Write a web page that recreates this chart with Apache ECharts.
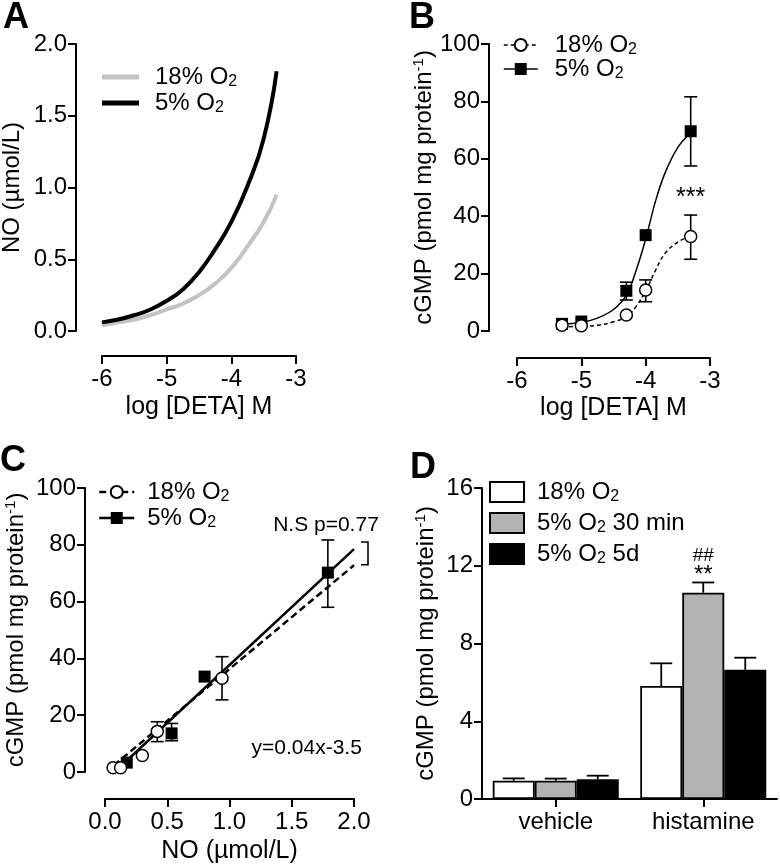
<!DOCTYPE html>
<html><head><meta charset="utf-8">
<script src="https://cdn.jsdelivr.net/npm/echarts@6/dist/echarts.min.js"></script>
<style>html,body{margin:0;padding:0;background:#fff}#c{width:780px;height:868px}</style>
</head><body><div id="c"></div>
<script>
// ---------- Panel A: NO vs log[DETA] (curves) ----------
const aX  = [-6, -5.75, -5.5, -5.25, -5, -4.75, -4.5, -4.25, -4, -3.75, -3.5, -3.3];
const a18 = [0.04, 0.06, 0.08, 0.11, 0.15, 0.19, 0.25, 0.33, 0.44, 0.59, 0.76, 0.95];
const a5  = [0.06, 0.08, 0.11, 0.15, 0.21, 0.29, 0.41, 0.57, 0.76, 1.01, 1.34, 1.81];
const aXTicks = [-6, -5, -4, -3];
const aYTicks = [0, 0.5, 1.0, 1.5, 2.0];

// ---------- Panel B: cGMP vs log[DETA] ----------
const bX     = [-5.3, -5, -4.3, -4, -3.3];
const b18    = [2.0, 1.8, 5.6, 14.3, 32.9];
const b18Lo  = [2.0, 1.8, 5.6, 10.2, 25.0];
const b18Hi  = [2.0, 1.8, 5.6, 17.8, 40.4];
const b5     = [2.5, 3.3, 14.0, 33.4, 69.6];
const b5Lo   = [2.5, 3.3, 10.8, 33.4, 57.5];
const b5Hi   = [2.5, 3.3, 17.0, 33.4, 81.6];
const bFitX  = [-5.3, -5, -4.75, -4.5, -4.3, -4.15, -4, -3.85, -3.7, -3.5, -3.3];
const bFit18 = [1.5, 1.6, 2.0, 3.2, 5.0, 8.5, 14, 21, 27, 31, 33];
const bFit5  = [2.5, 3.0, 4.5, 7.5, 12.5, 21, 32, 45, 55, 64, 69];
const bStarPos = [-3.3, 46.3];

// ---------- Panel C: cGMP vs NO ----------
const c18X  = [0.065, 0.125, 0.30, 0.42, 0.94];
const c18   = [1.5, 1.5, 5.8, 14.3, 33.0];
const c18Lo = [1.5, 1.5, 5.8, 10.7, 25.4];
const c18Hi = [1.5, 1.5, 5.8, 17.7, 40.6];
const c5X   = [0.175, 0.535, 0.80, 1.79];
const c5    = [3.3, 13.6, 33.6, 70.2];
const c5Lo  = [3.3, 11.0, 33.6, 58.0];
const c5Hi  = [3.3, 17.1, 33.6, 81.7];
const cFit18X = [0.07, 2.0];
const cFit18  = [2.3, 72.8];
const cFit5X  = [0.15, 2.0];
const cFit5   = [3.0, 78.5];
const cBracket = [2.0, 81, 73];
const cNSPos = [1.775, 87];
const cEqPos = [1.62, 8.5];

// ---------- Panel D: bars ----------
const dCats  = ['vehicle', 'histamine'];
const d18    = [0.94, 5.81];
const d18Hi  = [1.06, 6.98];
const d5m    = [0.94, 10.61];
const d5mHi  = [1.05, 11.14];
const d5d    = [1.01, 6.65];
const d5dHi  = [1.20, 7.27];

const FONT = "'Liberation Sans', Arial, sans-serif";
const BLACK = '#000';
const FS = 24;

const legendText = {
  A18: ['18% O', ''], A5: ['5% O', ''],
  B18: ['18% O', ''], B5: ['5% O', ''],
  C18: ['18% O', ''], C5: ['5% O', ''],
  D18: ['18% O', ''], D5m: ['5% O', ' 30 min'], D5d: ['5% O', ' 5d']
};
function makeLegend(names, left, top, sp, extra) {
  return Object.assign({
    orient: 'vertical', left: left, top: top, padding: 0, itemGap: 1,
    selectedMode: false, data: names,
    formatter: function (n) {
      const p = legendText[n];
      return '{sp| }{t|' + p[0] + '}{sub|2}' + (p[1] ? '{t|' + p[1] + '}' : '');
    },
    textStyle: {
      color: BLACK, fontFamily: FONT, fontSize: FS,
      rich: {
        sp: {width: sp, fontSize: FS, lineHeight: 26},
        t: {fontSize: FS, lineHeight: 26, fontFamily: FONT, color: BLACK},
        sub: {fontSize: 16, lineHeight: 14, verticalAlign: 'bottom', fontFamily: FONT, color: BLACK}
      }
    }
  }, extra || {});
}

const AX_LINE = {show: true, onZero: false, lineStyle: {color: BLACK, width: 2}};
const AX_TICK = {show: true, length: 8, inside: false, lineStyle: {color: BLACK, width: 2}};
const yNameRich = {
  t: {fontSize: FS, lineHeight: 26, fontFamily: FONT, color: BLACK},
  sup: {fontSize: 15, lineHeight: 14, verticalAlign: 'top', fontFamily: FONT, color: BLACK}
};
const cgmpName = '{t|cGMP (pmol mg protein}{sup|-1}{t|)}';

function xVal(grid, ticks, offset, name, gap, fmt) {
  return {
    type: 'value', gridIndex: grid, position: 'bottom',
    min: ticks[0], max: ticks[ticks.length - 1], interval: ticks[1] - ticks[0], offset: offset,
    axisLine: AX_LINE, axisTick: AX_TICK, splitLine: {show: false},
    axisLabel: {color: BLACK, fontSize: FS, fontFamily: FONT, margin: 11, formatter: fmt},
    name: name, nameLocation: 'middle', nameGap: gap,
    nameTextStyle: {color: BLACK, fontSize: 25, fontFamily: FONT}
  };
}
function yVal(grid, ticks, offset, name, gap, fmt) {
  return {
    type: 'value', gridIndex: grid, position: 'left',
    min: ticks[0], max: ticks[ticks.length - 1], interval: ticks[1] - ticks[0], offset: offset,
    axisLine: AX_LINE, axisTick: AX_TICK, splitLine: {show: false},
    axisLabel: {color: BLACK, fontSize: FS, fontFamily: FONT, margin: 9, formatter: fmt},
    name: name, nameLocation: 'middle', nameGap: gap, nameRotate: 90,
    nameTextStyle: {color: BLACK, fontSize: FS, fontFamily: FONT, rich: yNameRich}
  };
}
const fix1 = v => v.toFixed(1);

function errBars(xi, xs, lo, hi, capW, z) {
  return {
    type: 'custom', xAxisIndex: xi, yAxisIndex: xi, silent: true, z: z || 1, clip: false,
    data: xs.map((x, i) => [x, lo[i], hi[i]]),
    encode: {x: 0, y: [1, 2]},
    renderItem: function (params, api) {
      const x = api.value(0), l = api.value(1), h = api.value(2);
      if (h - l < 1e-6) return {type: 'group', children: []};
      const p1 = api.coord([x, l]), p2 = api.coord([x, h]);
      const s = {stroke: BLACK, lineWidth: 1.6, fill: null};
      return {type: 'group', children: [
        {type: 'line', shape: {x1: p1[0], y1: p1[1], x2: p2[0], y2: p2[1]}, style: s},
        {type: 'line', shape: {x1: p1[0] - capW / 2, y1: p1[1], x2: p1[0] + capW / 2, y2: p1[1]}, style: s},
        {type: 'line', shape: {x1: p2[0] - capW / 2, y1: p2[1], x2: p2[0] + capW / 2, y2: p2[1]}, style: s}
      ]};
    }
  };
}
const BAR_W = 42;
function barErr(vals, his, slot) {
  return {
    type: 'custom', xAxisIndex: 3, yAxisIndex: 3, silent: true, z: 3, clip: false,
    data: vals.map((v, i) => [i, v, his[i]]),
    encode: {x: 0, y: [1, 2]},
    renderItem: function (params, api) {
      const p1 = api.coord([api.value(0), api.value(1)]);
      const p2 = api.coord([api.value(0), api.value(2)]);
      const x = p1[0] + slot * BAR_W;
      const s = {stroke: BLACK, lineWidth: 1.8, fill: null};
      return {type: 'group', children: [
        {type: 'line', shape: {x1: x, y1: p1[1], x2: x, y2: p2[1]}, style: s},
        {type: 'line', shape: {x1: x - 11, y1: p2[1], x2: x + 11, y2: p2[1]}, style: s}
      ]};
    }
  };
}
const pairs = (xs, ys) => xs.map((x, i) => [x, ys[i]]);
const panelTitle = (t, left, top) => ({text: t, left: left, top: top, padding: 0,
  textStyle: {fontSize: 36, fontWeight: 'bold', fontFamily: FONT, color: BLACK}});

const option = {
  animation: false,
  backgroundColor: '#fff',
  textStyle: {fontFamily: FONT, color: BLACK},
  title: [panelTitle('A', 3, 0), panelTitle('B', 409, 0), panelTitle('C', 0, 443), panelTitle('D', 410, 450)],
  grid: [
    {left: 102, top: 44, width: 194, height: 287, outerBoundsMode: 'none'},
    {left: 517, top: 44, width: 193, height: 287, outerBoundsMode: 'none'},
    {left: 105, top: 488, width: 249, height: 284, outerBoundsMode: 'none'},
    {left: 482, top: 488, width: 295, height: 311, outerBoundsMode: 'none'}
  ],
  legend: [
    makeLegend(['A18', 'A5'], 102, 65, 11, {icon: 'rect', itemWidth: 37, itemHeight: 5}),
    makeLegend(['B18', 'B5'].map(n => ({name: n, lineStyle: {color: BLACK, width: 1.5, opacity: 1, type: n === 'B18' ? [4, 3] : 'solid'}})), 503, 33, 12, {itemWidth: 34, itemHeight: 15, itemGap: -1}),
    makeLegend(['C18', 'C5'].map(n => ({name: n, lineStyle: {color: BLACK, width: 2.5, opacity: 1, type: n === 'C18' ? [7, 4] : 'solid'}})), 98, 480, 8, {itemWidth: 35, itemHeight: 15}),
    makeLegend(['D18', 'D5m', 'D5d'], 489, 480, 8, {icon: 'rect', itemWidth: 34, itemHeight: 20, itemGap: 6})
  ],
  xAxis: [
    xVal(0, aXTicks, 25, 'log [DETA] M', 39),
    xVal(1, aXTicks, 27, 'log [DETA] M', 38),
    xVal(2, [0, 0.5, 1.0, 1.5, 2.0], 27, 'NO (µmol/L)', 40, fix1),
    {
      type: 'category', gridIndex: 3, data: dCats, position: 'bottom',
      axisLine: AX_LINE, axisTick: Object.assign({alignWithLabel: true}, AX_TICK),
      axisLabel: {color: BLACK, fontSize: FS, fontFamily: FONT, margin: 11}
    }
  ],
  yAxis: [
    yVal(0, aYTicks, 26, 'NO (µmol/L)', 52, fix1),
    yVal(1, [0, 20, 40, 60, 80, 100], 28, cgmpName, 49),
    yVal(2, [0, 20, 40, 60, 80, 100], 20, cgmpName, 56),
    yVal(3, [0, 4, 8, 12, 16], 0, cgmpName, 43)
  ],
  series: [
    // A
    {name: 'A18', type: 'line', xAxisIndex: 0, yAxisIndex: 0, data: pairs(aX, a18), smooth: 0.5,
      symbol: 'none', color: '#c3c3c3', lineStyle: {color: '#c3c3c3', width: 4}, itemStyle: {color: '#c3c3c3'}, z: 2},
    {name: 'A5', type: 'line', xAxisIndex: 0, yAxisIndex: 0, data: pairs(aX, a5), smooth: 0.5,
      symbol: 'none', color: BLACK, lineStyle: {color: BLACK, width: 4}, itemStyle: {color: BLACK}, z: 3},
    // B fits
    {name: 'Bfit18', type: 'line', xAxisIndex: 1, yAxisIndex: 1, data: pairs(bFitX, bFit18), smooth: 0.4,
      symbol: 'none', lineStyle: {color: BLACK, width: 1.5, type: [4, 3]}, z: 2},
    {name: 'Bfit5', type: 'line', xAxisIndex: 1, yAxisIndex: 1, data: pairs(bFitX, bFit5), smooth: 0.4,
      symbol: 'none', lineStyle: {color: BLACK, width: 1.5}, z: 2},
    errBars(1, bX, b18Lo, b18Hi, 13, 1),
    errBars(1, bX, b5Lo, b5Hi, 13, 1),
    {name: 'B5', type: 'line', xAxisIndex: 1, yAxisIndex: 1, data: pairs(bX, b5), symbol: 'rect', symbolSize: 12,
      showAllSymbol: true, lineStyle: {opacity: 0, color: BLACK}, itemStyle: {color: BLACK}, color: BLACK, z: 4,
      markPoint: {symbol: 'circle', symbolSize: 0, silent: true,
        label: {show: true, position: 'inside', formatter: '***', fontSize: 25, color: BLACK, fontFamily: FONT},
        data: [{coord: bStarPos}]}},
    {name: 'B18', type: 'line', xAxisIndex: 1, yAxisIndex: 1, data: pairs(bX, b18), symbol: 'circle', symbolSize: 12,
      showAllSymbol: true, lineStyle: {opacity: 0, color: BLACK}, itemStyle: {color: '#fff', borderColor: BLACK, borderWidth: 1.5}, z: 5},
    // C
    {name: 'Cfit18', type: 'line', xAxisIndex: 2, yAxisIndex: 2, data: pairs(cFit18X, cFit18),
      symbol: 'none', lineStyle: {color: BLACK, width: 2.5, type: [7, 4]}, z: 2},
    {name: 'Cfit5', type: 'line', xAxisIndex: 2, yAxisIndex: 2, data: pairs(cFit5X, cFit5),
      symbol: 'none', lineStyle: {color: BLACK, width: 2.5}, z: 2},
    errBars(2, c18X, c18Lo, c18Hi, 13, 1),
    errBars(2, c5X, c5Lo, c5Hi, 13, 1),
    {
      type: 'custom', xAxisIndex: 2, yAxisIndex: 2, silent: true, clip: false, z: 2,
      data: [cBracket], encode: {x: 0, y: [1, 2]},
      renderItem: function (params, api) {
        const p1 = api.coord([api.value(0), api.value(1)]);
        const p2 = api.coord([api.value(0), api.value(2)]);
        const x = p1[0] + 14;
        return {type: 'polyline', shape: {points: [[x - 7, p1[1]], [x, p1[1]], [x, p2[1]], [x - 7, p2[1]]]},
          style: {stroke: BLACK, lineWidth: 1.6, fill: null}};
      }
    },
    {name: 'C5', type: 'line', xAxisIndex: 2, yAxisIndex: 2, data: pairs(c5X, c5), symbol: 'rect', symbolSize: 12,
      showAllSymbol: true, lineStyle: {opacity: 0, color: BLACK}, itemStyle: {color: BLACK}, color: BLACK, z: 4,
      markPoint: {symbol: 'circle', symbolSize: 0, silent: true,
        label: {show: true, position: 'inside', fontSize: 21, color: BLACK, fontFamily: FONT},
        data: [{coord: cNSPos, label: {formatter: 'N.S p=0.77'}}, {coord: cEqPos, label: {formatter: 'y=0.04x-3.5'}}]}},
    {name: 'C18', type: 'line', xAxisIndex: 2, yAxisIndex: 2, data: pairs(c18X, c18), symbol: 'circle', symbolSize: 12,
      showAllSymbol: true, lineStyle: {opacity: 0, color: BLACK}, itemStyle: {color: '#fff', borderColor: BLACK, borderWidth: 1.5}, z: 5},
    // D
    {name: 'D18', type: 'bar', xAxisIndex: 3, yAxisIndex: 3, data: d18, barWidth: BAR_W, barGap: '0%',
      itemStyle: {color: '#fff', borderColor: BLACK, borderWidth: 1.8}},
    {name: 'D5m', type: 'bar', xAxisIndex: 3, yAxisIndex: 3, barWidth: BAR_W, barGap: '0%',
      data: d5m.map((v, i) => i === 1 ? {value: v, label: {show: true, position: 'top', distance: 6,
        formatter: '{h|##}\n{s|**}', rich: {
          h: {fontSize: 19, lineHeight: 18, fontFamily: FONT, color: BLACK, align: 'center'},
          s: {fontSize: 24, lineHeight: 22, fontFamily: FONT, color: BLACK, align: 'center'}}}} : v),
      itemStyle: {color: '#b3b3b3', borderColor: BLACK, borderWidth: 1.8}},
    {name: 'D5d', type: 'bar', xAxisIndex: 3, yAxisIndex: 3, data: d5d, barWidth: BAR_W, barGap: '0%',
      itemStyle: {color: BLACK, borderColor: BLACK, borderWidth: 1.8}},
    barErr(d18, d18Hi, -1),
    barErr(d5m, d5mHi, 0),
    barErr(d5d, d5dHi, 1)
  ]
};
const chart = echarts.init(document.getElementById('c'), null, {renderer: 'canvas'});
chart.setOption(option);
</script>
</body></html>
